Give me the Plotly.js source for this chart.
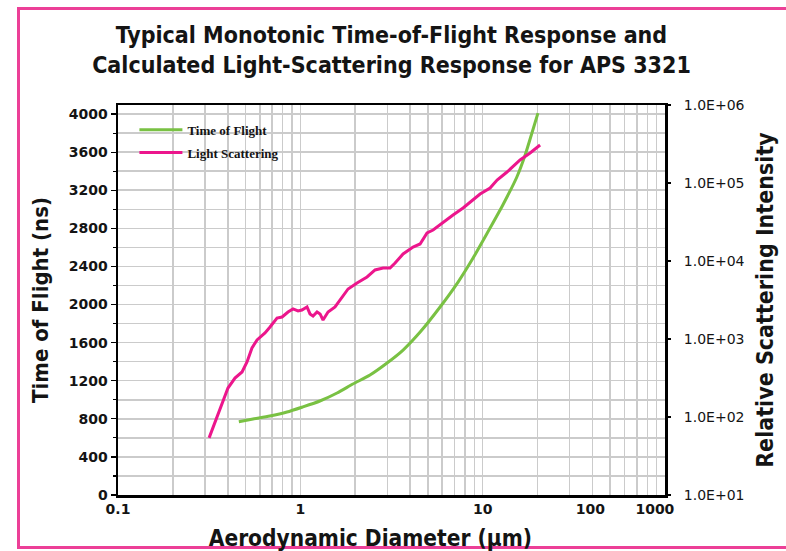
<!DOCTYPE html>
<html>
<head>
<meta charset="utf-8">
<script src="https://cdn.plot.ly/plotly-3.0.1.min.js"></script>
<style>
html, body { margin: 0; padding: 0; background: #ffffff; }
#chart { width: 786px; height: 551px; position: absolute; left: 0; top: 0; z-index: 1; }
#frame { position: absolute; left: 17px; top: 7px; width: 800px; height: 536px; z-index: 0;
         border: 3px solid #ec3f97; border-right: none; pointer-events: none; }
</style>
</head>
<body>
<div id="frame"></div>
<div id="chart"></div>
<script>
// Time of Flight (left axis, ns) vs aerodynamic diameter (µm)
const diameterTof = [0.46, 0.55, 0.68, 0.845, 1.03, 1.28, 1.59, 1.94, 2.41, 2.99, 3.66, 4.54, 5.84, 7.33, 8.86, 10.6, 12.9, 15.4, 17.1, 18.7, 20.1];
const tofNs       = [770, 798, 829, 871, 924, 987, 1071, 1165, 1260, 1386, 1522, 1711, 1974, 2236, 2488, 2751, 3045, 3339, 3570, 3811, 4010];

// Light scattering (right axis, relative intensity) vs aerodynamic diameter (µm)
const diameterLs  = [0.316, 0.340, 0.372, 0.401, 0.438, 0.479, 0.510, 0.543, 0.579, 0.640, 0.682, 0.745, 0.794, 0.856, 0.912, 0.971, 1.02, 1.088, 1.13, 1.174, 1.235, 1.283, 1.332, 1.419, 1.55, 1.693, 1.827, 2.046, 2.322, 2.57, 2.843, 3.105, 3.308, 3.66, 4.152, 4.536, 4.955, 5.346, 6.066, 6.879, 7.808, 8.53, 9.68, 10.98, 12.0, 13.6, 16.04, 18.2, 20.65];
const lsIntensity = [54, 84, 151, 235, 316, 378, 507, 767, 971, 1194, 1425, 1858, 1914, 2220, 2427, 2287, 2355, 2572, 2094, 1972, 2220, 2094, 1754, 2220, 2572, 3357, 4377, 5224, 6237, 7674, 8135, 8135, 9423, 12300, 15110, 16520, 22850, 24960, 31620, 38900, 47790, 57050, 72240, 86340, 109200, 138300, 197200, 242600, 306900];

// Tick labels
const xTickVals = [0.1, 1, 10, 39, 88];
const xTickText = ["0.1", "1", "10", "100", "1000"];
const gridDiameters = [0.1, 0.2, 0.3, 0.4, 0.5, 0.6, 0.7, 0.8, 0.9,
                       1, 2, 3, 4, 5, 6, 7, 8, 9,
                       10, 20, 30, 40, 50, 60, 70, 80, 90, 100];
const rightTickVals = [10, 100, 1000, 10000, 100000, 1000000];
const rightTickText = ["1.0E+01", "1.0E+02", "1.0E+03", "1.0E+04", "1.0E+05", "1.0E+06"];

const condensed = "'Liberation Sans Narrow', 'DejaVu Sans Condensed', 'Roboto Condensed', sans-serif";
const plain = "'DejaVu Sans', sans-serif";
const ink = '#141414';
const gridColor = '#cbcbcb';

const traces = [
  {
    x: diameterTof, y: tofNs, name: 'Time of Flight', type: 'scatter', mode: 'lines',
    xaxis: 'x', yaxis: 'y', legendgroup: 'a',
    line: { color: '#79c143', width: 3, shape: 'spline', smoothing: 0.6 }
  },
  {
    x: diameterLs, y: lsIntensity, name: 'Light Scattering', type: 'scatter', mode: 'lines',
    xaxis: 'x2', yaxis: 'y2', legendgroup: 'b',
    line: { color: '#ec168c', width: 3 }
  }
];

const layout = {
  width: 786, height: 551,
  margin: { l: 118, r: 121, t: 105, b: 56 },
  paper_bgcolor: 'rgba(0,0,0,0)', plot_bgcolor: '#ffffff',
  title: {
    text: 'Typical Monotonic Time-of-Flight Response and<br>Calculated Light-Scattering Response for APS 3321',
    font: { family: condensed, size: 23, color: ink, weight: 'bold' },
    x: 0.5, xanchor: 'center', xref: 'paper', y: 0.922, yanchor: 'top', yref: 'container'
  },
  showlegend: true,
  legend: {
    x: 0.03, y: 0.975, xanchor: 'left', yanchor: 'top',
    bgcolor: 'rgba(0,0,0,0)', borderwidth: 0, tracegroupgap: 3,
    font: { family: "'Liberation Serif', serif", size: 13, color: ink, weight: 'bold' },
    itemwidth: 43
  },
  xaxis: {
    type: 'log', range: [-1, 2],
    tickmode: 'array', tickvals: xTickVals, ticktext: xTickText,
    showgrid: false, zeroline: false,
    showline: true, linecolor: '#000', linewidth: 2.5, mirror: true,
    ticks: '', tickfont: { family: plain, size: 14, color: ink, weight: 'bold' },
    title: { text: 'Aerodynamic Diameter (µm)&nbsp;&nbsp;&nbsp;&nbsp;&nbsp;&nbsp;', standoff: 14,
             font: { family: condensed, size: 22.5, color: ink, weight: 'bold' } }
  },
  xaxis2: {
    type: 'log', range: [-1, 2], overlaying: 'x', anchor: 'y2', side: 'bottom',
    tickmode: 'array', tickvals: gridDiameters, showticklabels: false, ticks: '',
    showgrid: true, gridcolor: gridColor, gridwidth: 1.5, showline: false, zeroline: false
  },
  yaxis: {
    range: [0, 4095], tickmode: 'linear', tick0: 0, dtick: 400,
    showgrid: true, gridcolor: gridColor, gridwidth: 1.5, zeroline: false,
    showline: true, linecolor: '#000', linewidth: 2.5, mirror: true,
    ticks: 'outside', ticklen: 5, tickcolor: '#000', tickwidth: 1.2,
    minor: { dtick: 200, ticks: 'outside', ticklen: 3, tickcolor: '#000', showgrid: true, gridcolor: gridColor, gridwidth: 1.5 },
    tickfont: { family: plain, size: 14, color: ink, weight: 'bold' },
    title: { text: 'Time of Flight (ns)', standoff: 14,
             font: { family: condensed, size: 22, color: ink, weight: 'bold' } }
  },
  yaxis2: {
    type: 'log', range: [1, 6], overlaying: 'y', side: 'right', anchor: 'x',
    tickmode: 'array', tickvals: rightTickVals, ticktext: rightTickText,
    showgrid: false, zeroline: false, showline: false,
    ticks: 'outside', ticklen: 5, tickcolor: '#000', tickwidth: 1.2, ticklabelstandoff: 10,
    tickfont: { family: plain, size: 14, color: ink },
    title: { text: 'Relative Scattering Intensity', standoff: 13,
             font: { family: condensed, size: 23, color: ink, weight: 'bold' } }
  }
};

Plotly.newPlot('chart', traces, layout, { staticPlot: true, displayModeBar: false });
</script>
</body>
</html>
